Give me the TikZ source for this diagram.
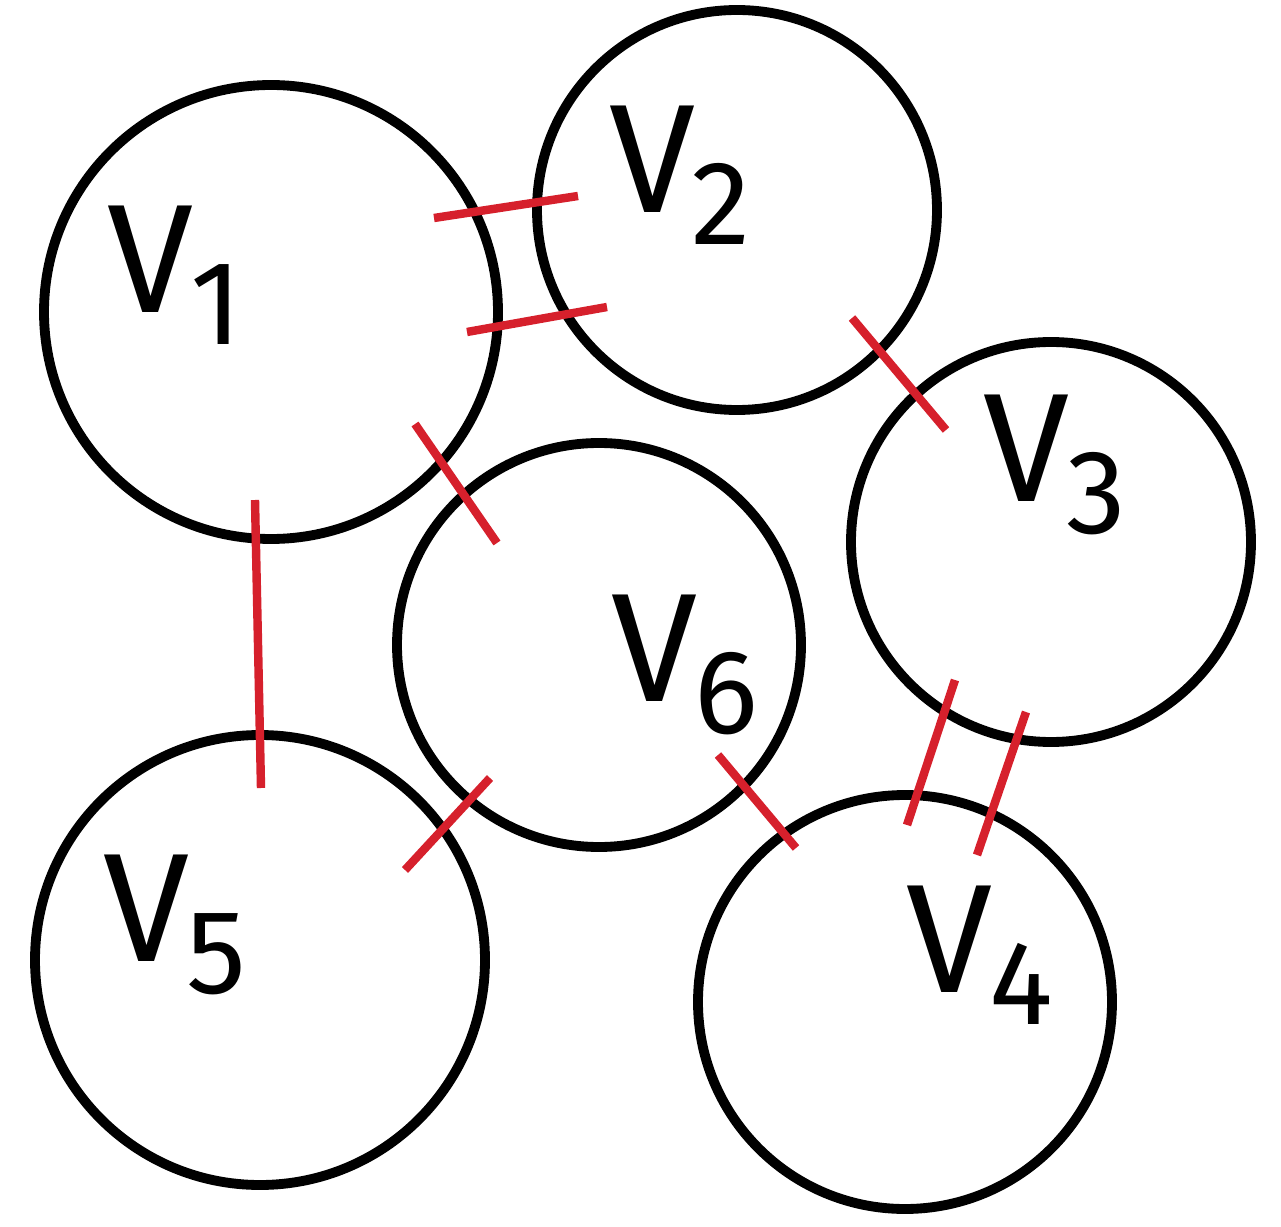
\documentclass[tikz,border=0pt]{standalone}
\usepackage{fontspec}
\setsansfont{Fira Sans}
\usetikzlibrary{positioning,calc}
\definecolor{EdgeRed}{RGB}{214,32,44}
\newcommand{\vname}[1]{V\kern-1pt\raisebox{-9pt}{\fontsize{34}{36}\selectfont #1}}

\begin{document}
\begin{tikzpicture}[x=1cm,y=-1cm,
    vertex/.style={circle,draw,line width=2.8pt,inner sep=0pt},
    vlabel/.style={font=\sffamily\fontsize{44}{50}\selectfont},
    cut/.style={EdgeRed,line width=2.4pt}]
  \useasboundingbox (0,0) rectangle (12.81,12.27);
  % vertices
  \node[vertex,minimum size=4.54cm] (v1) at (2.71,3.12) {};
  \node[vertex,minimum size=4.00cm] (v2) at (7.37,2.10) {};
  \node[vertex,minimum size=4.00cm] (v3) at (10.51,5.42) {};
  \node[vertex,minimum size=4.14cm] (v4) at (9.05,10.02) {};
  \node[vertex,minimum size=4.50cm] (v5) at (2.60,9.60) {};
  \node[vertex,minimum size=4.04cm] (v6) at (5.99,6.45) {};
  % labels
  \node[vlabel] (l1) at (1.75,2.75) {\vname{1}};
  \node[vlabel] (l2) at (6.80,1.75) {\vname{2}};
  \node[vlabel] (l3) at (10.55,4.65) {\vname{3}};
  \node[vlabel] (l4) at (9.80,9.55) {\vname{4}};
  \node[vlabel] (l5) at (1.75,9.25) {\vname{5}};
  \node[vlabel] (l6) at (6.85,6.65) {\vname{6}};
  % cut marks
  \coordinate (a1) at (4.34,2.18); \coordinate (a2) at (5.78,1.96);
  \coordinate (b1) at (4.67,3.32); \coordinate (b2) at (6.07,3.07);
  \coordinate (c1) at (4.15,4.24); \coordinate (c2) at (4.97,5.43);
  \coordinate (d1) at (2.55,5.00); \coordinate (d2) at (2.61,7.88);
  \coordinate (e1) at (8.52,3.18); \coordinate (e2) at (9.46,4.30);
  \coordinate (f1) at (4.90,7.78); \coordinate (f2) at (4.05,8.70);
  \coordinate (g1) at (7.18,7.55); \coordinate (g2) at (7.96,8.48);
  \coordinate (h1) at (9.55,6.80); \coordinate (h2) at (9.07,8.25);
  \coordinate (k1) at (10.26,7.12); \coordinate (k2) at (9.77,8.55);
  \foreach \s in {a,b,c,d,e,f,g,h,k}
    \draw[cut] (\s1) -- (\s2);
\end{tikzpicture}
\end{document}
